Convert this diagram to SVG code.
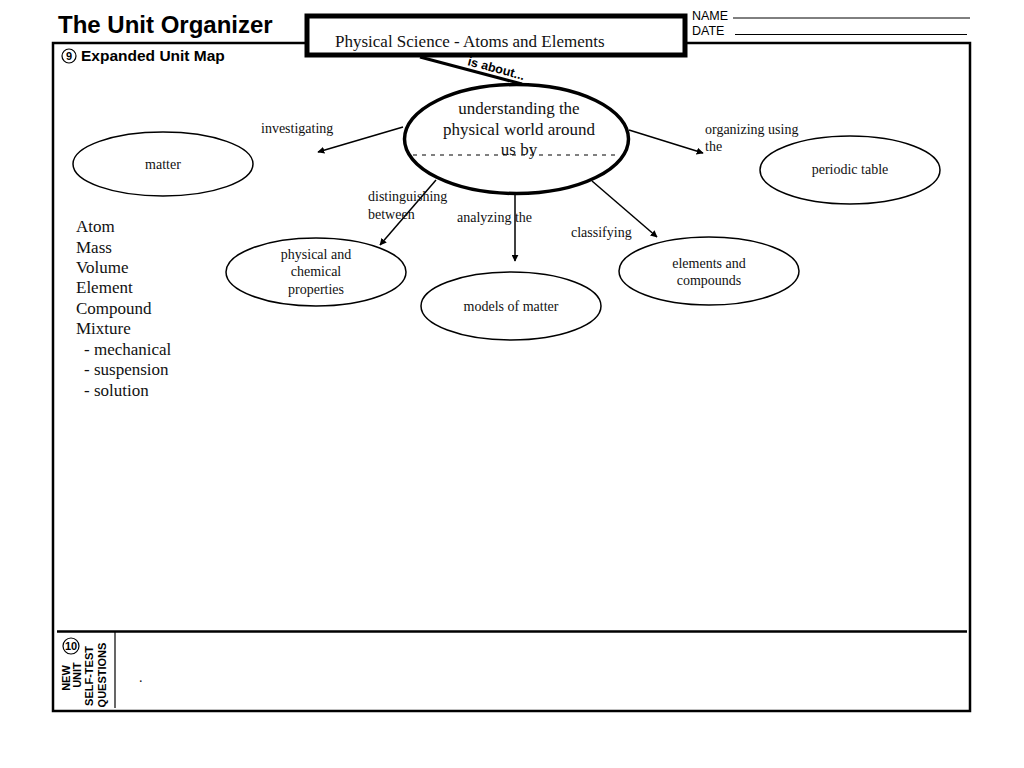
<svg xmlns="http://www.w3.org/2000/svg" width="1024" height="768" viewBox="0 0 1024 768">
<defs>
<style>
.sans{font-family:"Liberation Sans",Arial,sans-serif}
.serif{font-family:"Liberation Serif","Times New Roman",serif;fill:#111}
.node{fill:#fff;stroke:#000;stroke-width:1.5}
.lbl{font-family:"Liberation Serif","Times New Roman",serif;font-size:14px;fill:#111}
.conn{stroke:#000;stroke-width:1.5;fill:none;marker-end:url(#ah)}
</style>
<marker id="ah" viewBox="0 0 10 10" refX="9" refY="5" markerWidth="7" markerHeight="7" markerUnits="userSpaceOnUse" orient="auto">
<path d="M0,0 L10,5 L0,10 z" fill="#000"/>
</marker>
</defs>
<rect width="1024" height="768" fill="#fff"/>
<g id="frame">
<text x="58" y="33" class="sans" font-size="24" font-weight="bold">The Unit Organizer</text>
<path d="M305,43 H53 V711 H970 V43 H686" fill="none" stroke="#000" stroke-width="2.5"/>
<line x1="57" y1="631.5" x2="967" y2="631.5" stroke="#000" stroke-width="2.5"/>
<line x1="115" y1="632" x2="115" y2="708" stroke="#000" stroke-width="1.2"/>
<text x="692" y="20" class="sans" font-size="12.5">NAME</text>
<line x1="733" y1="18" x2="970" y2="18" stroke="#000" stroke-width="1"/>
<text x="692" y="35" class="sans" font-size="12.5">DATE</text>
<line x1="735" y1="34.5" x2="967" y2="34.5" stroke="#000" stroke-width="1"/>
<circle cx="69" cy="56" r="7" fill="none" stroke="#000" stroke-width="1.2"/>
<text x="69" y="60" class="sans" font-size="11" font-weight="bold" text-anchor="middle">9</text>
<text x="81" y="61" class="sans" font-size="15.5" font-weight="bold">Expanded Unit Map</text>
<circle cx="71" cy="646" r="8" fill="none" stroke="#000" stroke-width="1.2"/>
<text x="71" y="650" class="sans" font-size="11" font-weight="bold" text-anchor="middle">10</text>
<g class="sans" font-size="11" font-weight="bold" text-anchor="middle">
<text transform="translate(70,678) rotate(-90)">NEW</text>
<text transform="translate(81,675) rotate(-90)">UNIT</text>
<text transform="translate(93,676) rotate(-90)">SELF-TEST</text>
<text transform="translate(106,675) rotate(-90)">QUESTIONS</text>
</g>
<text x="139" y="682" class="serif" font-size="14">.</text>
</g>
<g id="title-box">
<rect x="307" y="16" width="378" height="39" fill="#fff" stroke="#000" stroke-width="5"/>
<text x="335" y="47" class="serif" font-size="17">Physical Science - Atoms and Elements</text>
</g>
<g id="connectors">
<line x1="420" y1="57" x2="522" y2="84" stroke="#000" stroke-width="3"/>
<text transform="translate(467,65) rotate(15)" class="sans" font-size="12.5" font-weight="bold">is about...</text>
<line class="conn" x1="403" y1="127" x2="318" y2="152"/>
<line class="conn" x1="629" y1="130" x2="703" y2="153"/>
<line class="conn" x1="436" y1="180" x2="380" y2="245"/>
<line class="conn" x1="515" y1="194" x2="515" y2="261"/>
<line class="conn" x1="592" y1="181" x2="657" y2="237"/>
<text x="261" y="133" class="lbl">investigating</text>
<text x="705" y="134" class="lbl">organizing using</text>
<text x="705" y="151" class="lbl">the</text>
<text x="368" y="201" class="lbl">distinguishing</text>
<text x="368" y="219" class="lbl">between</text>
<text x="457" y="222" class="lbl">analyzing the</text>
<text x="571" y="237" class="lbl">classifying</text>
</g>
<g id="central">
<ellipse cx="516.5" cy="139" rx="112" ry="54.5" fill="#fff" stroke="#000" stroke-width="3.5"/>
<g class="serif" font-size="17" text-anchor="middle">
<text x="519" y="114">understanding the</text>
<text x="519" y="135">physical world around</text>
<text x="519" y="155">us by</text>
</g>
<line x1="413" y1="155" x2="615" y2="155" stroke="#000" stroke-width="1" stroke-dasharray="4,5"/>
</g>
<g id="matter">
<ellipse class="node" cx="163" cy="164" rx="90" ry="32"/>
<text x="163" y="169" class="lbl" text-anchor="middle">matter</text>
</g>
<g id="periodic-table">
<ellipse class="node" cx="850" cy="170" rx="90" ry="34"/>
<text x="850" y="174" class="lbl" text-anchor="middle">periodic table</text>
</g>
<g id="properties">
<ellipse class="node" cx="316" cy="272" rx="90" ry="34"/>
<g class="lbl" text-anchor="middle">
<text x="316" y="259">physical and</text>
<text x="316" y="276">chemical</text>
<text x="316" y="294">properties</text>
</g>
</g>
<g id="models">
<ellipse class="node" cx="511" cy="306" rx="90" ry="34"/>
<text x="511" y="311" class="lbl" text-anchor="middle">models of matter</text>
</g>
<g id="elements">
<ellipse class="node" cx="709" cy="271" rx="90" ry="34"/>
<g class="lbl" text-anchor="middle">
<text x="709" y="268">elements and</text>
<text x="709" y="285">compounds</text>
</g>
</g>
<g id="vocab" class="serif" font-size="17">
<text x="76" y="232">Atom</text>
<text x="76" y="253">Mass</text>
<text x="76" y="273">Volume</text>
<text x="76" y="293">Element</text>
<text x="76" y="314">Compound</text>
<text x="76" y="334">Mixture</text>
<text x="84" y="355">- mechanical</text>
<text x="84" y="375">- suspension</text>
<text x="84" y="396">- solution</text>
</g>
</svg>
